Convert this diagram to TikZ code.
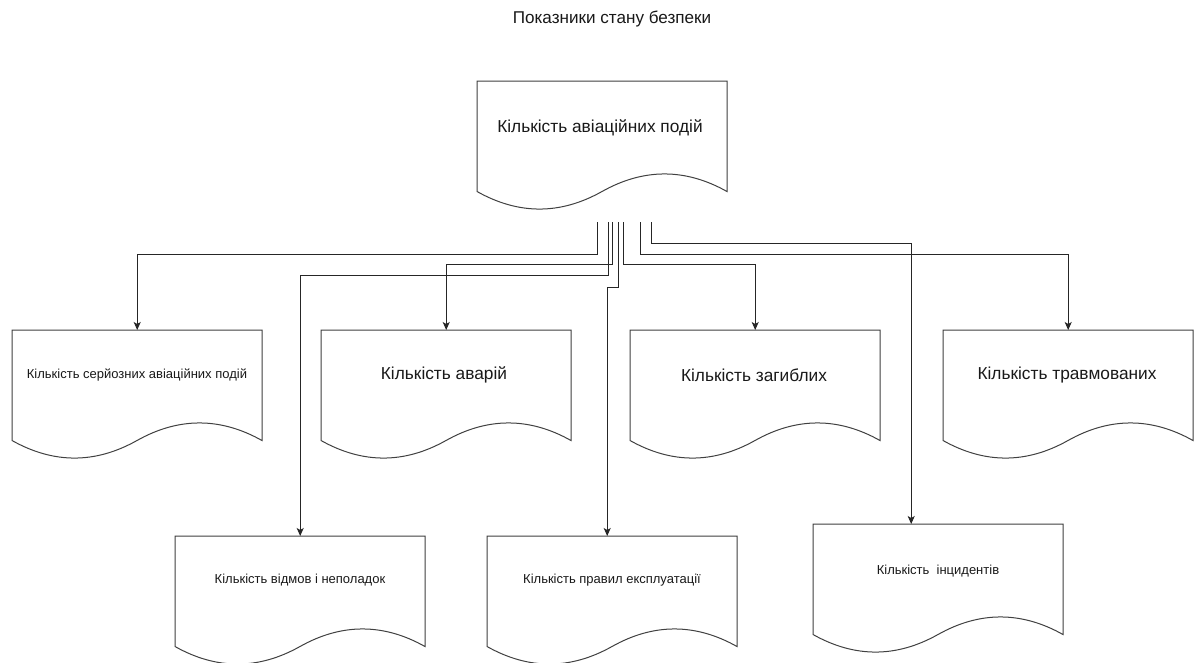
\documentclass[tikz,border=0pt]{standalone}
\usepackage{fontspec}
\setmainfont{Liberation Sans}
\usetikzlibrary{arrows.meta,calc}
\tikzset{
  docline/.style={draw=black!75, line width=1pt, fill=white},
  conn/.style={draw=black!85, line width=1pt, -{Stealth[length=8pt,width=7pt,inset=2pt]}},
  bigtxt/.style={font=\fontsize{17.3}{20}\selectfont, text=black!90, inner sep=0pt},
  smalltxt/.style={font=\fontsize{13}{15}\selectfont, text=black!90, inner sep=0pt},
  titletxt/.style={font=\fontsize{17.1}{20}\selectfont, text=black!90, inner sep=0pt}
}
\newcommand\docbox[3]{%
  \begin{scope}[shift={(#2,#3)}]
    \draw[docline] (0,0) -- (250,0) -- (250,110.5)
      .. controls (208.33,87.1) and (166.67,87.1) .. (125,110.5)
      .. controls (83.33,133.9) and (41.67,133.9) .. (0,110.5) -- cycle;
    \node[inner sep=0pt, minimum width=250pt, minimum height=130pt, anchor=north west] (#1) at (0,0) {};
  \end{scope}}
\begin{document}
\begin{tikzpicture}[x=1pt,y=-1pt]
  \useasboundingbox (0,0) rectangle (1195,662);
  \fill[white] (0,0) rectangle (1195,662);

  \node[titletxt] (title) at (612,19) {Показники стану безпеки};

  % boxes
  \docbox{top}{477}{81}
  \docbox{ser}{12}{330}
  \docbox{avar}{321}{330}
  \docbox{zag}{630}{330}
  \docbox{trav}{943}{330}
  \docbox{vidm}{175}{536}
  \docbox{prav}{487}{536}
  \docbox{inc}{813}{524}

  % texts
  \node[bigtxt] (topT) at (600,128) {Кількість авіаційних подій};
  \node[smalltxt] (serT) at (137,375) {Кількість серйозних авіаційних подій};
  \node[bigtxt] (avarT) at (444,375) {Кількість аварій};
  \node[bigtxt] (zagT) at (754,375) {Кількість загиблих};
  \node[bigtxt] (travT) at (1067,375) {Кількість травмованих};
  \node[smalltxt] (vidmT) at (300,580) {Кількість відмов і неполадок};
  \node[smalltxt] (pravT) at (612,580) {Кількість правил експлуатації};
  \node[smalltxt] (incT) at (938,571) {Кількість\ \ інцидентів};

  % connector start points
  \coordinate (s1) at (597,222);
  \coordinate (s2) at (608,222);
  \coordinate (s3) at (612,222);
  \coordinate (s4) at (618,222);
  \coordinate (s5) at (623,222);
  \coordinate (s6) at (640,222);
  \coordinate (s7) at (651,222);

  % connectors
  \draw[conn] (s1) |- ([yshift=76pt]ser.north) -- (ser.north);
  \draw[conn] (s2) |- ([yshift=261pt]vidm.north) -- (vidm.north);
  \draw[conn] (s3) |- ([yshift=66pt]avar.north) -- (avar.north);
  \draw[conn] (s4) |- ([xshift=-5pt,yshift=249pt]prav.north) -- ([xshift=-5pt]prav.north);
  \draw[conn] (s5) |- ([yshift=66pt]zag.north) -- (zag.north);
  \draw[conn] (s6) |- ([yshift=76pt]trav.north) -- (trav.north);
  \draw[conn] (s7) |- ([xshift=-27pt,yshift=281pt]inc.north) -- ([xshift=-27pt]inc.north);
\end{tikzpicture}
\end{document}
